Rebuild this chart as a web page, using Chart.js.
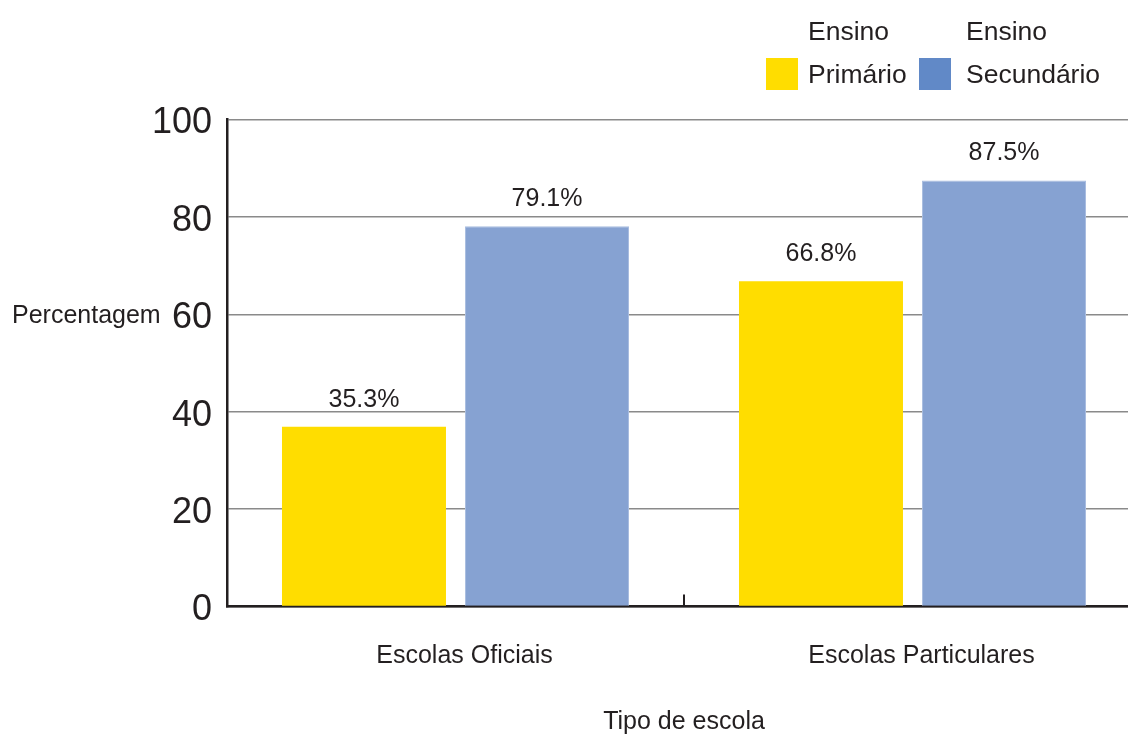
<!DOCTYPE html>
<html>
<head>
<meta charset="utf-8">
<script src="https://cdn.jsdelivr.net/npm/chart.js@4.4.1/dist/chart.umd.min.js"></script>
<style>
  html, body { margin: 0; padding: 0; background: #fff; overflow: hidden; }
  #wrap { width: 1141px; height: 740px; position: relative; }
</style>
</head>
<body>
<div id="wrap"><canvas id="c"></canvas></div>
<script>
const categories = ["Escolas Oficiais", "Escolas Particulares"];
const seriesNames = [["Ensino", "Primário"], ["Ensino", "Secundário"]];
const primarioValues = [36.9, 66.8];
const secundarioValues = [78.1, 87.5];
const primarioLabels = ["35.3%", "66.8%"];
const secundarioLabels = ["79.1%", "87.5%"];
const yTicks = [0, 20, 40, 60, 80, 100];
const yTitle = "Percentagem";
const xTitle = "Tipo de escola";

const FONT = "'Liberation Sans', Arial, Helvetica, sans-serif";
const TXT = "#231f20";
const barColors = ["#FFDD00", "#86A2D2"];
const legendColors = ["#FFDD00", "#6189C7"];
const allLabels = [primarioLabels, secundarioLabels];

const extras = {
  id: "extras",
  afterDatasetsDraw(chart) {
    const ctx = chart.ctx;
    const xs = chart.scales.x, ys = chart.scales.y;
    ctx.save();
    // value labels
    ctx.fillStyle = TXT;
    ctx.font = "25px " + FONT;
    ctx.textAlign = "center";
    ctx.textBaseline = "middle";
    chart.data.datasets.forEach((ds, di) => {
      const meta = chart.getDatasetMeta(di);
      meta.data.forEach((bar, i) => {
        ctx.fillText(allLabels[di][i], bar.x, bar.y - 27);
      });
    });
    // tick between categories (inside)
    const mid = (xs.getPixelForValue(0) + xs.getPixelForValue(1)) / 2;
    ctx.strokeStyle = "#231f20";
    ctx.lineWidth = 2;
    ctx.beginPath();
    ctx.moveTo(mid, ys.getPixelForValue(0));
    ctx.lineTo(mid, ys.getPixelForValue(0) - 12);
    ctx.stroke();
    // y title (horizontal)
    ctx.font = "25px " + FONT;
    ctx.textAlign = "left";
    ctx.textBaseline = "middle";
    ctx.fillText(yTitle, 12, ys.getPixelForValue(60) + 2);
    // legend
    ctx.font = "26.5px " + FONT;
    const legX = [766, 919];
    seriesNames.forEach((nm, i) => {
      ctx.fillStyle = legendColors[i];
      ctx.fillRect(legX[i], 58, 32, 32);
      ctx.fillStyle = TXT;
      ctx.fillText(nm[0], legX[i] + 42 + (i === 1 ? 5 : 0), 33);
      ctx.fillText(nm[1], legX[i] + 42 + (i === 1 ? 5 : 0), 76);
    });
    ctx.restore();
  }
};

new Chart(document.getElementById("c"), {
  type: "bar",
  data: {
    labels: categories,
    datasets: [
      { label: seriesNames[0].join(" "), data: primarioValues, backgroundColor: barColors[0],
        categoryPercentage: 0.801, barPercentage: 0.896 },
      { label: seriesNames[1].join(" "), data: secundarioValues, backgroundColor: barColors[1],
        borderColor: "#a9bde0", borderWidth: 1, borderSkipped: "bottom",
        categoryPercentage: 0.801, barPercentage: 0.896 }
    ]
  },
  options: {
    responsive: true,
    maintainAspectRatio: false,
    animation: false,
    layout: { padding: { top: 119.5, left: 0, right: 0, bottom: 0 } },
    plugins: { legend: { display: false }, tooltip: { enabled: false } },
    scales: {
      x: {
        grid: { display: false },
        border: { display: true, color: "#231f20", width: 2.5 },
        ticks: { color: TXT, font: { family: FONT, size: 25 }, padding: 27, labelOffset: 9, maxRotation: 0 },
        title: { display: true, text: xTitle, color: TXT, font: { family: FONT, size: 25 }, padding: { top: 0, bottom: 3 } },
        afterFit(s) { s.height = 740 - 606.5; }
      },
      y: {
        min: 0, max: 100,
        afterBuildTicks(s) { s.ticks = yTicks.map(v => ({ value: v })); },
        grid: { color: "#8a8a8a", lineWidth: 1.6, drawTicks: false },
        border: { display: true, color: "#231f20", width: 2.5 },
        ticks: { color: TXT, font: { family: FONT, size: 36 }, padding: 15, labelOffset: 4 },
        afterFit(s) { s.width = 227; }
      }
    }
  },
  plugins: [extras]
});
</script>
</body>
</html>
